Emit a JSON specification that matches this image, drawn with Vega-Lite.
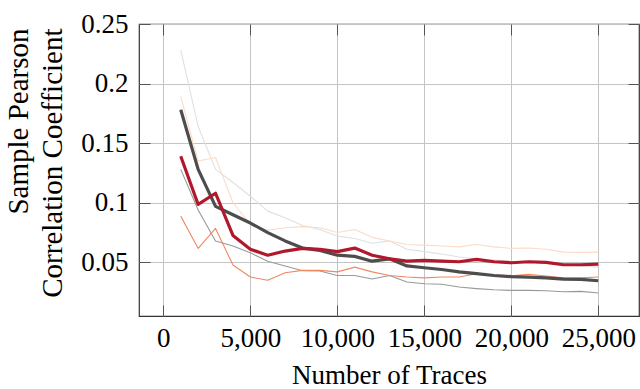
{
  "$schema": "https://vega.github.io/schema/vega-lite/v6.json",
  "width": 500,
  "height": 292,
  "autosize": {"type": "none"},
  "padding": {"left": 139, "top": 24, "right": 1, "bottom": 73},
  "background": "white",
  "config": {
    "view": {"stroke": "#333333", "strokeWidth": 1.2},
    "axis": {
      "labelFont": "Liberation Serif",
      "labelFontSize": 27,
      "labelColor": "black",
      "titleFont": "Liberation Serif",
      "titleFontSize": 27,
      "titleFontWeight": "normal",
      "titleColor": "black",
      "gridColor": "#c4c4c4",
      "gridWidth": 1,
      "domain": false,
      "tickColor": "#555555",
      "tickWidth": 1
    }
  },
  "datasets": {
    "d": [
      {"s":"lightgray","x":1000,"y":0.228},{"s":"lightgray","x":2000,"y":0.164},{"s":"lightgray","x":3000,"y":0.128},{"s":"lightgray","x":4000,"y":0.117},{"s":"lightgray","x":5000,"y":0.1055},{"s":"lightgray","x":6000,"y":0.093},{"s":"lightgray","x":7000,"y":0.0874},{"s":"lightgray","x":8000,"y":0.081},{"s":"lightgray","x":9000,"y":0.0776},{"s":"lightgray","x":10000,"y":0.072},{"s":"lightgray","x":11000,"y":0.07},{"s":"lightgray","x":12000,"y":0.066},{"s":"lightgray","x":13000,"y":0.068},{"s":"lightgray","x":14000,"y":0.061},{"s":"lightgray","x":15000,"y":0.059},{"s":"lightgray","x":16000,"y":0.057},{"s":"lightgray","x":17000,"y":0.0545},{"s":"lightgray","x":18000,"y":0.053},{"s":"lightgray","x":19000,"y":0.052},{"s":"lightgray","x":20000,"y":0.051},{"s":"lightgray","x":21000,"y":0.05},{"s":"lightgray","x":22000,"y":0.049},{"s":"lightgray","x":23000,"y":0.048},{"s":"lightgray","x":24000,"y":0.047},{"s":"lightgray","x":25000,"y":0.046},
      {"s":"peach","x":1000,"y":0.189},{"s":"peach","x":2000,"y":0.135},{"s":"peach","x":3000,"y":0.138},{"s":"peach","x":4000,"y":0.1},{"s":"peach","x":5000,"y":0.082},{"s":"peach","x":6000,"y":0.077},{"s":"peach","x":7000,"y":0.079},{"s":"peach","x":8000,"y":0.08},{"s":"peach","x":9000,"y":0.079},{"s":"peach","x":10000,"y":0.075},{"s":"peach","x":11000,"y":0.0776},{"s":"peach","x":12000,"y":0.071},{"s":"peach","x":13000,"y":0.068},{"s":"peach","x":14000,"y":0.065},{"s":"peach","x":15000,"y":0.0645},{"s":"peach","x":16000,"y":0.0637},{"s":"peach","x":17000,"y":0.063},{"s":"peach","x":18000,"y":0.065},{"s":"peach","x":19000,"y":0.063},{"s":"peach","x":20000,"y":0.0617},{"s":"peach","x":21000,"y":0.062},{"s":"peach","x":22000,"y":0.061},{"s":"peach","x":23000,"y":0.0586},{"s":"peach","x":24000,"y":0.0584},{"s":"peach","x":25000,"y":0.0586},
      {"s":"midgray","x":1000,"y":0.128},{"s":"midgray","x":2000,"y":0.094},{"s":"midgray","x":3000,"y":0.068},{"s":"midgray","x":4000,"y":0.0637},{"s":"midgray","x":5000,"y":0.058},{"s":"midgray","x":6000,"y":0.051},{"s":"midgray","x":7000,"y":0.047},{"s":"midgray","x":8000,"y":0.043},{"s":"midgray","x":9000,"y":0.0427},{"s":"midgray","x":10000,"y":0.039},{"s":"midgray","x":11000,"y":0.039},{"s":"midgray","x":12000,"y":0.036},{"s":"midgray","x":13000,"y":0.039},{"s":"midgray","x":14000,"y":0.0335},{"s":"midgray","x":15000,"y":0.032},{"s":"midgray","x":16000,"y":0.0316},{"s":"midgray","x":17000,"y":0.0293},{"s":"midgray","x":18000,"y":0.028},{"s":"midgray","x":19000,"y":0.027},{"s":"midgray","x":20000,"y":0.0265},{"s":"midgray","x":21000,"y":0.0265},{"s":"midgray","x":22000,"y":0.0262},{"s":"midgray","x":23000,"y":0.0254},{"s":"midgray","x":24000,"y":0.0257},{"s":"midgray","x":25000,"y":0.0243},
      {"s":"orange","x":1000,"y":0.0888},{"s":"orange","x":2000,"y":0.0617},{"s":"orange","x":3000,"y":0.0785},{"s":"orange","x":4000,"y":0.0478},{"s":"orange","x":5000,"y":0.0377},{"s":"orange","x":6000,"y":0.035},{"s":"orange","x":7000,"y":0.0413},{"s":"orange","x":8000,"y":0.0433},{"s":"orange","x":9000,"y":0.0433},{"s":"orange","x":10000,"y":0.042},{"s":"orange","x":11000,"y":0.046},{"s":"orange","x":12000,"y":0.042},{"s":"orange","x":13000,"y":0.039},{"s":"orange","x":14000,"y":0.0377},{"s":"orange","x":15000,"y":0.037},{"s":"orange","x":16000,"y":0.0377},{"s":"orange","x":17000,"y":0.0377},{"s":"orange","x":18000,"y":0.0405},{"s":"orange","x":19000,"y":0.0394},{"s":"orange","x":20000,"y":0.0388},{"s":"orange","x":21000,"y":0.04},{"s":"orange","x":22000,"y":0.0385},{"s":"orange","x":23000,"y":0.037},{"s":"orange","x":24000,"y":0.037},{"s":"orange","x":25000,"y":0.0377},
      {"s":"darkgray","x":1000,"y":0.178},{"s":"darkgray","x":2000,"y":0.128},{"s":"darkgray","x":3000,"y":0.097},{"s":"darkgray","x":4000,"y":0.09},{"s":"darkgray","x":5000,"y":0.083},{"s":"darkgray","x":6000,"y":0.075},{"s":"darkgray","x":7000,"y":0.068},{"s":"darkgray","x":8000,"y":0.062},{"s":"darkgray","x":9000,"y":0.06},{"s":"darkgray","x":10000,"y":0.056},{"s":"darkgray","x":11000,"y":0.055},{"s":"darkgray","x":12000,"y":0.051},{"s":"darkgray","x":13000,"y":0.053},{"s":"darkgray","x":14000,"y":0.047},{"s":"darkgray","x":15000,"y":0.0455},{"s":"darkgray","x":16000,"y":0.044},{"s":"darkgray","x":17000,"y":0.042},{"s":"darkgray","x":18000,"y":0.0405},{"s":"darkgray","x":19000,"y":0.039},{"s":"darkgray","x":20000,"y":0.038},{"s":"darkgray","x":21000,"y":0.0377},{"s":"darkgray","x":22000,"y":0.037},{"s":"darkgray","x":23000,"y":0.036},{"s":"darkgray","x":24000,"y":0.0358},{"s":"darkgray","x":25000,"y":0.0346},
      {"s":"crimson","x":1000,"y":0.139},{"s":"crimson","x":2000,"y":0.0986},{"s":"crimson","x":3000,"y":0.108},{"s":"crimson","x":4000,"y":0.0726},{"s":"crimson","x":5000,"y":0.061},{"s":"crimson","x":6000,"y":0.056},{"s":"crimson","x":7000,"y":0.0595},{"s":"crimson","x":8000,"y":0.0617},{"s":"crimson","x":9000,"y":0.061},{"s":"crimson","x":10000,"y":0.059},{"s":"crimson","x":11000,"y":0.062},{"s":"crimson","x":12000,"y":0.056},{"s":"crimson","x":13000,"y":0.053},{"s":"crimson","x":14000,"y":0.051},{"s":"crimson","x":15000,"y":0.0517},{"s":"crimson","x":16000,"y":0.051},{"s":"crimson","x":17000,"y":0.0505},{"s":"crimson","x":18000,"y":0.0525},{"s":"crimson","x":19000,"y":0.0505},{"s":"crimson","x":20000,"y":0.0497},{"s":"crimson","x":21000,"y":0.0505},{"s":"crimson","x":22000,"y":0.05},{"s":"crimson","x":23000,"y":0.048},{"s":"crimson","x":24000,"y":0.048},{"s":"crimson","x":25000,"y":0.0486}
    ]
  },
  "data": {"name": "d"},
  "resolve": {"axis": {"x": "independent", "y": "independent"}},
  "layer": [
    {
      "mark": {"type": "line", "strokeOpacity": 0},
      "encoding": {
        "x": {"field": "x", "type": "quantitative",
              "scale": {"domain": [-1400, 27340], "nice": false, "zero": false},
              "axis": {"orient": "top", "labels": false, "title": null, "grid": false, "ticks": true, "tickSize": -11, "values": [0,5000,10000,15000,20000,25000]}},
        "y": {"field": "y", "type": "quantitative",
              "scale": {"domain": [0.005, 0.25], "nice": false, "zero": false},
              "axis": {"orient": "right", "labels": false, "title": null, "grid": false, "ticks": true, "tickSize": -11, "values": [0.05,0.1,0.15,0.2,0.25]}},
        "detail": {"field": "s", "type": "nominal"}
      }
    },
    {
      "transform": [{"filter": {"field": "s", "oneOf": ["lightgray","peach","midgray","orange"]}}],
      "mark": {"type": "line", "strokeJoin": "round", "strokeWidth": 1.1},
      "encoding": {
        "x": {"field": "x", "type": "quantitative",
              "scale": {"domain": [-1400, 27340], "nice": false, "zero": false},
              "axis": {"orient": "bottom", "title": "Number of Traces", "grid": true, "ticks": true, "tickSize": -11,
                       "values": [0,5000,10000,15000,20000,25000], "format": ",d",
                       "labelPadding": 20, "labelBaseline": "top",
                       "titleY": 67, "titleBaseline": "alphabetic"}},
        "y": {"field": "y", "type": "quantitative",
              "scale": {"domain": [0.005, 0.25], "nice": false, "zero": false},
              "axis": {"orient": "left", "title": ["Sample Pearson", "Correlation Coefficient"], "grid": true, "ticks": true, "tickSize": -11,
                       "values": [0.05,0.1,0.15,0.2,0.25], "labelExpr": "replace(format(datum.value, '.2f'), /0$/, '')",
                       "labelPadding": 22, "labelBaseline": "middle",
                       "titleAngle": 270, "titleAlign": "right", "titleBaseline": "alphabetic",
                       "titleFontSize": 29,
                       "titleX": -112, "titleY": 4, "titleLineHeight": 34}},
        "color": {"field": "s", "type": "nominal", "legend": null,
                  "scale": {"domain": ["lightgray","peach","midgray","orange","darkgray","crimson"],
                            "range": ["#e0e0e0","#fddbc7","#999999","#ef8a62","#4d4d4d","#b2182b"]}}
      }
    },
    {
      "transform": [{"filter": {"field": "s", "oneOf": ["darkgray","crimson"]}}],
      "mark": {"type": "line", "strokeJoin": "round", "strokeWidth": 3.2},
      "encoding": {
        "x": {"field": "x", "type": "quantitative",
              "scale": {"domain": [-1400, 27340], "nice": false, "zero": false},
              "axis": null},
        "y": {"field": "y", "type": "quantitative",
              "scale": {"domain": [0.005, 0.25], "nice": false, "zero": false},
              "axis": null},
        "color": {"field": "s", "type": "nominal", "legend": null,
                  "scale": {"domain": ["lightgray","peach","midgray","orange","darkgray","crimson"],
                            "range": ["#e0e0e0","#fddbc7","#999999","#ef8a62","#4d4d4d","#b2182b"]}}
      }
    }
  ]
}
